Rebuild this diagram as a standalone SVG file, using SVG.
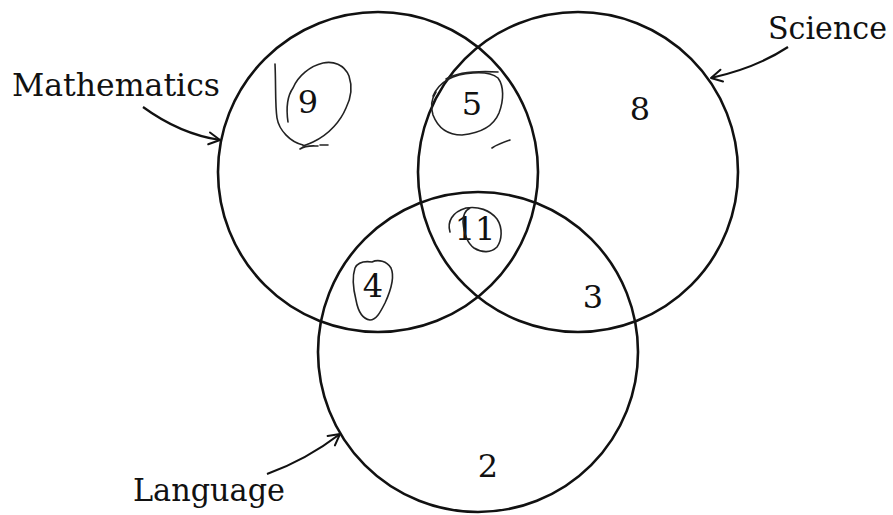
<svg xmlns="http://www.w3.org/2000/svg" width="893" height="515" viewBox="0 0 893 515">
  <style>
    .set { fill: none; stroke: #111; stroke-width: 2.6; }
    .lbl { font-family: "DejaVu Serif", "Liberation Serif", serif; font-size: 31px; fill: #111; }
    .num { font-family: "DejaVu Serif", "Liberation Serif", serif; font-size: 32px; fill: #111; text-anchor: middle; }
    .conn { fill: none; stroke: #111; stroke-width: 2.2; }
    .pen { fill: none; stroke: #222; stroke-width: 1.6; stroke-linecap: round; stroke-linejoin: round; }
  </style>
  <defs>
    <marker id="arrow" markerUnits="userSpaceOnUse" markerWidth="16" markerHeight="16" refX="12" refY="7" orient="auto" overflow="visible">
      <path d="M1,1 L12,7 L1,13" fill="none" stroke="#111" stroke-width="2" stroke-linecap="round" stroke-linejoin="round"/>
    </marker>
  </defs>
  <rect width="893" height="515" fill="#fff"/>

  <g id="mathematics">
    <circle class="set" cx="378" cy="172" r="160"/>
    <text class="lbl" x="12" y="96" textLength="208" lengthAdjust="spacingAndGlyphs">Mathematics</text>
  </g>
  <g id="science">
    <circle class="set" cx="578" cy="172" r="160"/>
    <text class="lbl" x="768" y="39" textLength="119" lengthAdjust="spacingAndGlyphs">Science</text>
  </g>
  <g id="language">
    <circle class="set" cx="478" cy="352" r="160"/>
    <text class="lbl" x="133" y="501" textLength="152" lengthAdjust="spacingAndGlyphs">Language</text>
  </g>

  <g id="connectors">
    <path class="conn" d="M143,107 Q180,134 220,140" marker-end="url(#arrow)"/>
    <path class="conn" d="M788,47 Q756,68 711,78" marker-end="url(#arrow)"/>
    <path class="conn" d="M267,474 Q306,460 340,434" marker-end="url(#arrow)"/>
  </g>

  <g id="counts">
    <text class="num" x="308" y="113">9</text>
    <text class="num" x="472" y="115">5</text>
    <text class="num" x="640" y="120">8</text>
    <text class="num" x="475" y="240">11</text>
    <text class="num" x="373" y="297">4</text>
    <text class="num" x="593" y="308">3</text>
    <text class="num" x="488" y="477">2</text>
  </g>

  <g id="pen-marks">
    <path class="pen" d="M275,64 C276,85 275,105 277,118 C279,130 290,142 303,145"/>
    <path class="pen" d="M288,122 C286,108 288,95 293,88 C298,76 310,66 323,63 C333,61 344,64 349,76 C353,88 350,100 346,108 C341,120 330,134 313,142 C309,144 305,145 303,146"/>
    <path class="pen" d="M300,149 C306,145 312,146 318,146 M320,145 L328,145"/>
    <path class="pen" d="M433,96 C440,80 455,74 473,73 C485,72 493,74 498,78 C504,86 504,100 499,113 C494,125 482,133 462,135 C448,135 438,128 433,115 C430,105 432,98 436,92"/>
    <path class="pen" d="M446,79 C458,72 480,71 498,72"/>
    <path class="pen" d="M492,148 C498,144 504,142 510,140"/>
    <path class="pen" d="M450,232 C447,222 452,212 466,208 C478,206 490,210 497,219 C503,228 502,240 497,247 C491,253 482,253 474,248 C467,243 464,233 463,222 C463,215 466,210 470,208"/>
    <path class="pen" d="M372,262 C378,259 387,261 391,268 C395,277 391,290 385,303 C380,313 376,320 370,320 C363,319 358,311 356,300 C353,288 352,277 355,268 C358,262 365,261 372,262"/>
  </g>
</svg>
